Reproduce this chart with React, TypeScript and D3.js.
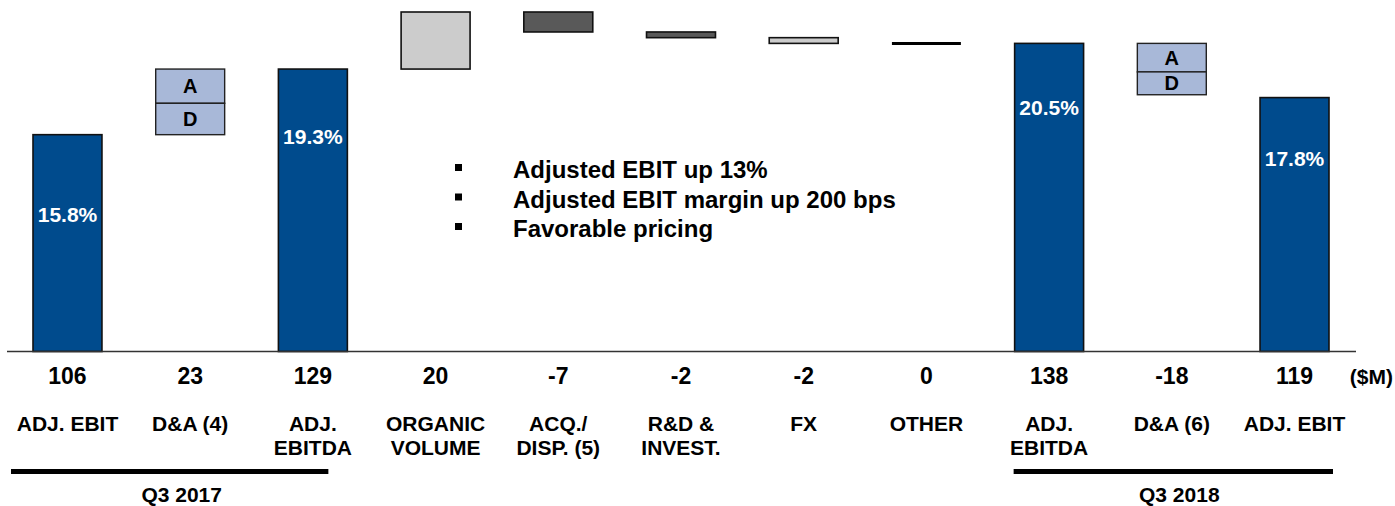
import React from "react";
import * as d3 from "d3";

// waterfall: Q3 2017 adj. EBIT -> Q3 2018 adj. EBIT ($M)
const categories = [
  ["ADJ. EBIT"],
  ["D&A (4)"],
  ["ADJ.", "EBITDA"],
  ["ORGANIC", "VOLUME"],
  ["ACQ./", "DISP. (5)"],
  ["R&D &", "INVEST."],
  ["FX"],
  ["OTHER"],
  ["ADJ.", "EBITDA"],
  ["D&A (6)"],
  ["ADJ. EBIT"],
];
const values = [106, 23, 129, 20, -7, -2, -2, 0, 138, -18, 119];
const kinds = ["total", "da", "total", "delta", "delta", "delta", "delta", "delta", "total", "da", "total"];
const margins = ["15.8%", "", "19.3%", "", "", "", "", "", "20.5%", "", "17.8%"];
// split of the D&A boxes: amortization / depreciation
const amortization = [0, 12, 0, 0, 0, 0, 0, 0, 0, 10, 0];
const depreciation = [0, 11, 0, 0, 0, 0, 0, 0, 0, 8, 0];
const bullets = ["Adjusted EBIT up 13%", "Adjusted EBIT margin up 200 bps", "Favorable pricing"];
const periods = [
  { label: "Q3 2017", from: 0, to: 2 },
  { label: "Q3 2018", from: 8, to: 10 },
];

const W = 1395;
const H = 506;
const FONT = "'Liberation Sans', Arial, Helvetica, sans-serif";
const NAVY = "#004B8D";
const LIGHT = "#A8B8D8";
const deltaFill = ["", "", "", "#CCCCCC", "#595959", "#595959", "#CCCCCC", "#000"];
const pctDy = [87, 0, 75, 0, 0, 0, 0, 0, 72, 0, 68];
// bracket overhang (left, right) and label shift for each period
const bracketPad = [
  [-22, -19, 12],
  [-1, 4, 6],
];

export default function App() {
  const x = d3
    .scaleBand<number>()
    .domain(d3.range(values.length))
    .range([33, 1329])
    .paddingInner(0.438)
    .paddingOuter(0);
  const y = d3.scaleLinear().domain([30, 149]).range([351.5, 12]);
  const bw = x.bandwidth();
  const cx = (i: number) => (x(i) as number) + bw / 2;

  // running level for the waterfall
  let level = 0;
  const bars = values.map((v, i) => {
    let lo: number, hi: number;
    if (kinds[i] === "total") {
      lo = 30;
      hi = v;
      level = v;
    } else {
      lo = Math.min(level, level + v);
      hi = Math.max(level, level + v);
      level = level + v;
    }
    return { i, v, lo, hi };
  });

  return (
    <div style={{ position: "absolute", left: 0, top: 0 }}>
      <svg width={W} height={H} style={{ display: "block", background: "#fff" }} fontFamily={FONT}>
        {bars.map(({ i, lo, hi }) => {
          const k = kinds[i];
          if (k === "total") {
            return (
              <g key={i}>
                <rect x={x(i)} y={y(hi)} width={bw} height={y(lo) - y(hi)} fill={NAVY} stroke="#111" strokeWidth={1.6} />
                <text x={cx(i)} y={y(hi) + pctDy[i]} fill="#fff" fontSize={21} fontWeight="bold" textAnchor="middle">
                  {margins[i]}
                </text>
              </g>
            );
          }
          if (k === "da") {
            const a = amortization[i];
            const top = hi;
            const mid = hi - a;
            return (
              <g key={i}>
                <rect x={x(i)} y={y(top)} width={bw} height={y(mid) - y(top)} fill={LIGHT} stroke="#222" strokeWidth={1.4} />
                <rect x={x(i)} y={y(mid)} width={bw} height={y(lo) - y(mid)} fill={LIGHT} stroke="#222" strokeWidth={1.4} />
                <text x={cx(i)} y={(y(top) + y(mid)) / 2 + 7} fontSize={20} fontWeight="bold" textAnchor="middle">
                  A
                </text>
                <text x={cx(i)} y={(y(mid) + y(lo)) / 2 + 7} fontSize={20} fontWeight="bold" textAnchor="middle">
                  D
                </text>
              </g>
            );
          }
          if (hi === lo) {
            return <line key={i} x1={x(i)} x2={(x(i) as number) + bw} y1={y(hi)} y2={y(hi)} stroke="#000" strokeWidth={3} />;
          }
          return (
            <rect key={i} x={x(i)} y={y(hi)} width={bw} height={y(lo) - y(hi)} fill={deltaFill[i]} stroke="#111" strokeWidth={1.6} />
          );
        })}

        <line x1={7} x2={1356} y1={351.5} y2={351.5} stroke="#333" strokeWidth={1.5} />

        {values.map((v, i) => (
          <text key={"v" + i} x={cx(i)} y={384} fontSize={23} fontWeight="bold" textAnchor="middle">
            {v}
          </text>
        ))}
        <text x={1393} y={384} fontSize={21} fontWeight="bold" textAnchor="end">
          ($M)
        </text>

        {categories.map((lines, i) => (
          <text key={"c" + i} x={cx(i)} y={431} fontSize={21} fontWeight="bold" textAnchor="middle">
            {lines.map((l, j) => (
              <tspan key={j} x={cx(i)} dy={j === 0 ? 0 : 24}>
                {l}
              </tspan>
            ))}
          </text>
        ))}

        {periods.map((p, k) => {
          const x1 = (x(p.from) as number) + bracketPad[k][0];
          const x2 = (x(p.to) as number) + bw + bracketPad[k][1];
          return (
            <g key={p.label}>
              <line x1={x1} x2={x2} y1={471.5} y2={471.5} stroke="#000" strokeWidth={5} />
              <text x={(x1 + x2) / 2 + bracketPad[k][2]} y={502} fontSize={21} fontWeight="bold" textAnchor="middle">
                {p.label}
              </text>
            </g>
          );
        })}

        {bullets.map((b, j) => (
          <g key={"b" + j}>
            <rect x={455} y={170 + j * 29.5 - 6} width={7} height={7} fill="#000" />
            <text x={513} y={178 + j * 29.5} fontSize={24} fontWeight="bold">
              {b}
            </text>
          </g>
        ))}
      </svg>
    </div>
  );
}
